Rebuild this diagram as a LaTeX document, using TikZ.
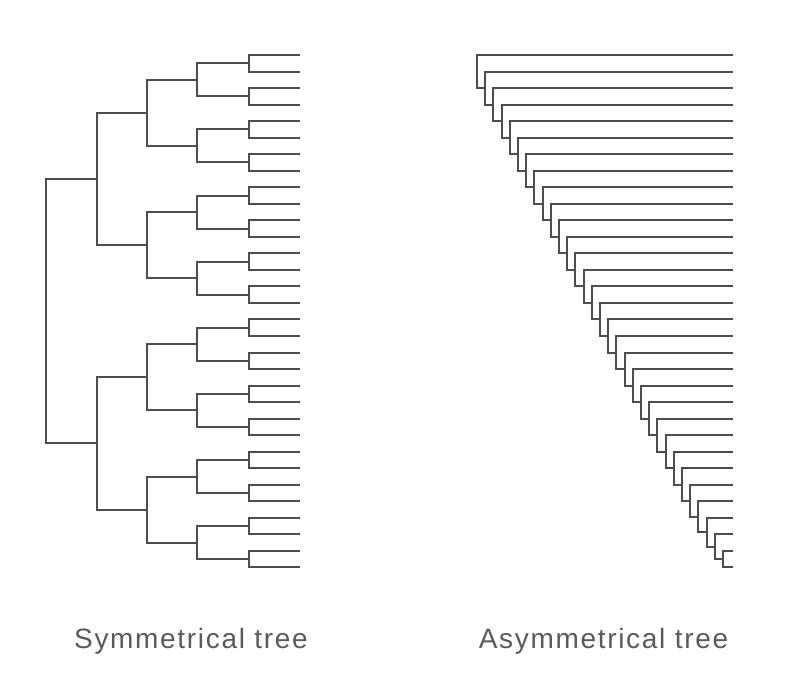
\documentclass[tikz,border=0pt]{standalone}
\usepackage{fontspec}
\setmainfont{Liberation Sans}
\newfontfamily\labelfont[LetterSpace=6]{Liberation Sans}
\usepackage{tikz}
\definecolor{linegray}{RGB}{77,77,77}
\definecolor{textgray}{RGB}{90,90,90}
\tikzset{treeline/.style={draw=linegray,line width=1.5pt},
  treelabel/.style={anchor=base,inner sep=0.75pt,text=textgray,font=\labelfont\fontsize{21}{25}\selectfont}}

\begin{document}
\begin{tikzpicture}[x=0.75pt,y=0.75pt,yscale=-1,xscale=1]
%set diagram size: 808 x 700
\path (0,0) rectangle (808,700);

%Symmetrical tree: leaf tips
\foreach \i in {0,...,31}
  \coordinate (s\i) at (300,{55+\i*16.53});
%Symmetrical tree: inner nodes, level by level
\foreach \j in {0,...,15}
  \coordinate (a\j) at (249,{55+(2*\j+0.5)*16.53});
\foreach \j in {0,...,7}
  \coordinate (b\j) at (197,{55+(4*\j+1.5)*16.53});
\foreach \j in {0,...,3}
  \coordinate (c\j) at (147,{55+(8*\j+3.5)*16.53});
\foreach \j in {0,...,1}
  \coordinate (d\j) at (97,{55+(16*\j+7.5)*16.53});
\coordinate (root) at (46,{55+15.5*16.53});

%Symmetrical tree: branches
\foreach \j in {0,...,15}{
  \pgfmathtruncatemacro\k{2*\j}
  \pgfmathtruncatemacro\l{2*\j+1}
  \draw[treeline] (s\k) -| (a\j) |- (s\l);
}
\foreach \j in {0,...,7}{
  \pgfmathtruncatemacro\k{2*\j}
  \pgfmathtruncatemacro\l{2*\j+1}
  \draw[treeline] (a\k) -| (b\j) |- (a\l);
}
\foreach \j in {0,...,3}{
  \pgfmathtruncatemacro\k{2*\j}
  \pgfmathtruncatemacro\l{2*\j+1}
  \draw[treeline] (b\k) -| (c\j) |- (b\l);
}
\foreach \j in {0,...,1}{
  \pgfmathtruncatemacro\k{2*\j}
  \pgfmathtruncatemacro\l{2*\j+1}
  \draw[treeline] (c\k) -| (d\j) |- (c\l);
}
\draw[treeline] (d0) -| (root) |- (d1);

%Asymmetrical tree: leaf tips
\foreach \i in {1,...,32}
  \coordinate (t\i) at (733,{55+(\i-1)*16.53});
%Asymmetrical tree: inner nodes (each one halfway between its leaf and the next node)
\foreach \k in {1,...,31}
  \coordinate (u\k) at ({477+(\k-1)*8.2},{55+(\k-0.5^min(32-\k,12))*16.53});

%Asymmetrical tree: branches
\foreach \k [evaluate=\k as \n using int(\k+1)] in {1,...,30}
  \draw[treeline] (t\k) -| (u\k) |- (u\n);
\draw[treeline] (t31) -| (u31) |- (t32);

% Text Node
\node[treelabel] (symlabel) at (191,648) {Symmetrical tree};
% Text Node
\node[treelabel] (asymlabel) at (603.5,648) {Asymmetrical tree};

\end{tikzpicture}
\end{document}
